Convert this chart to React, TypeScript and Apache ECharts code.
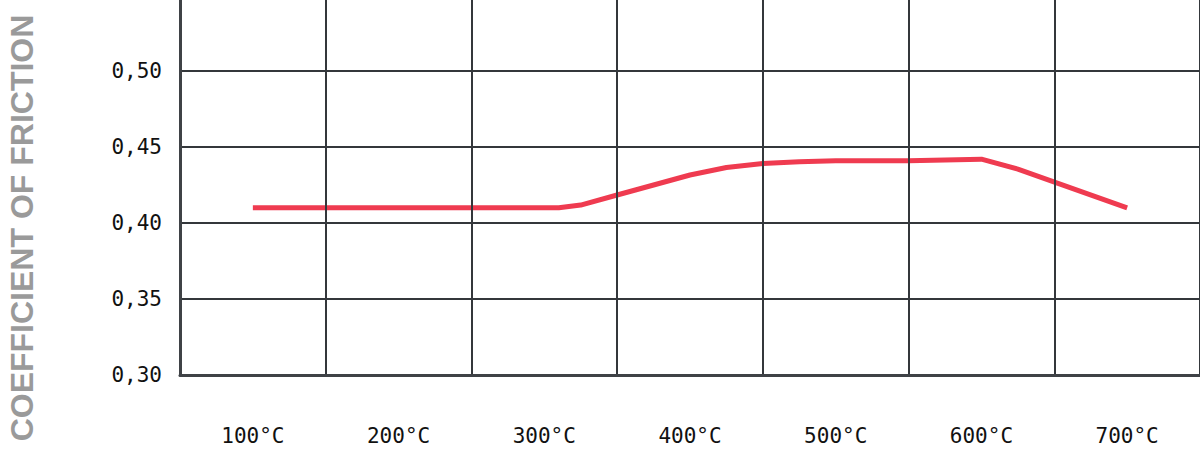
import React, { useEffect, useRef } from "react";
import * as echarts from "echarts";

// x-axis categories (column labels)
const categories = ["100°C", "200°C", "300°C", "400°C", "500°C", "600°C", "700°C"];
// measured curve: temperature (°C) and coefficient of friction
const temps = [100, 200, 300, 310, 325, 350, 375, 400, 425, 450, 475, 500, 550, 600, 625, 700];
const cof = [0.41, 0.41, 0.41, 0.41, 0.4118, 0.4184, 0.425, 0.4316, 0.4365, 0.4392, 0.4403, 0.441, 0.441, 0.442, 0.4355, 0.41];
// y ticks
const yMin = 0.3;
const yMax = 0.55;
const yStep = 0.05;

const App: React.FC = () => {
  const chartRef = useRef<HTMLDivElement>(null);

  useEffect(() => {
    const chart = echarts.init(chartRef.current, null, { renderer: "svg" });
    const option: echarts.EChartsOption = {
      animation: false,
      // the container starts 5px above the page, so the 0.55 line sits just out of view
      grid: { left: 180, right: 0, top: 0, bottom: 77 },
      xAxis: [
        {
          type: "category",
          data: categories,
          boundaryGap: true,
          z: 3,
          axisLine: { show: true, lineStyle: { color: "#3f4246", width: 3 } },
          axisTick: { show: false },
          splitLine: { show: true, interval: 0, lineStyle: { color: "#34373b", width: 2 } },
          axisLabel: {
            margin: 50,
            interval: 0,
            color: "#111",
            fontFamily: "DejaVu Sans Mono",
            fontSize: 21,
          },
        },
        {
          type: "value",
          min: 50,
          max: 750,
          show: false,
          splitLine: { show: false },
        },
      ],
      yAxis: {
        type: "value",
        min: yMin,
        max: yMax,
        interval: yStep,
        z: 3,
        axisLine: { show: true, lineStyle: { color: "#3f4246", width: 3 } },
        axisTick: { show: false },
        splitLine: { show: true, lineStyle: { color: "#34373b", width: 2 } },
        axisLabel: {
          margin: 18,
          color: "#111",
          fontFamily: "DejaVu Sans Mono",
          fontSize: 21,
          formatter: (v: number) => (v > 0.52 ? "" : v.toFixed(2).replace(".", ",")),
        },
      },
      graphic: [
        {
          type: "text",
          x: 22,
          y: 233,
          rotation: Math.PI / 2,
          style: {
            text: "COEFFICIENT OF FRICTION",
            fill: "#9a9a9a",
            font: "bold 32px 'Liberation Sans', Arial, sans-serif",
            textAlign: "center",
            textVerticalAlign: "middle",
          },
        },
      ],
      series: [
        {
          type: "line",
          xAxisIndex: 1,
          data: temps.map((t, i) => [t, cof[i]]),
          showSymbol: false,
          symbol: "none",
          lineStyle: { color: "#ef3b50", width: 5 },
          z: 2,
        },
      ],
    };
    chart.setOption(option);
    return () => {
      chart.dispose();
    };
  }, []);

  return (
    <div
      ref={chartRef}
      style={{ position: "fixed", left: 0, top: -5, width: 1200, height: 457, background: "#fff" }}
    />
  );
};

export default App;
